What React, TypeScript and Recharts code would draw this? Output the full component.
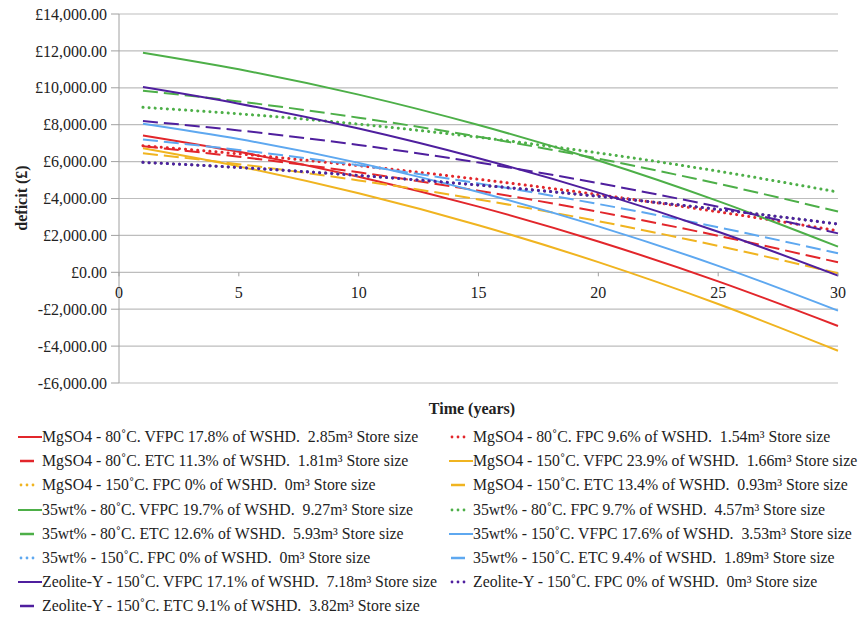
import { LineChart, Line, XAxis, YAxis, CartesianGrid } from 'recharts'

const RED = '#E2262B'
const YELLOW = '#F0B420'
const GREEN = '#4DAF48'
const BLUE = '#5EA8F0'
const PURPLE = '#4F1F9E'
const GRID = '#BDBDBD'
const FONT = '"Liberation Serif", "Times New Roman", serif'

// years with read values (deficit in £)
const YEARS = [1, 5, 10, 15, 20, 25, 30]
const MG80_VFPC = [7420, 6530, 5180, 3560, 1670, -490, -2910]
const MG80_FPC = [6860, 6420, 5780, 5040, 4210, 3280, 2250]
const MG80_ETC = [6830, 6260, 5420, 4420, 3280, 1980, 540]
const MG150_VFPC = [6720, 5740, 4280, 2550, 550, -1720, -4250]
const MG150_ETC = [6450, 5860, 4980, 3950, 2770, 1430, -50]
const W35_80_VFPC = [11900, 11000, 9630, 7980, 6060, 3860, 1390]
const W35_80_FPC = [8940, 8590, 8030, 7320, 6470, 5480, 4350]
const W35_80_ETC = [9840, 9260, 8380, 7350, 6160, 4800, 3290]
const W35_150_VFPC = [8050, 7220, 5930, 4350, 2490, 350, -2080]
const W35_150_ETC = [7200, 6630, 5800, 4820, 3700, 2440, 1030]
const ZEO_VFPC = [10040, 9140, 7790, 6180, 4320, 2200, -180]
const ZEO_ETC = [8200, 7690, 6900, 5950, 4830, 3550, 2110]
// 0% of WSHD: no solar, same deficit for every material
const NO_SOLAR = [5960, 5680, 5250, 4730, 4120, 3410, 2620]

const Y_TICKS = [-6000, -4000, -2000, 0, 2000, 4000, 6000, 8000, 10000, 12000, 14000]
const X_TICKS = [0, 5, 10, 15, 20, 25, 30]

type Style = 'solid' | 'dash' | 'dot'
const series: { key: string; name: string; color: string; style: Style; values: number[] }[] = [
  { key: 'mg80v', name: 'MgSO4 - 80˚C. VFPC 17.8% of WSHD.  2.85m³ Store size', color: RED, style: 'solid', values: MG80_VFPC },
  { key: 'mg80f', name: 'MgSO4 - 80˚C. FPC 9.6% of WSHD.  1.54m³ Store size', color: RED, style: 'dot', values: MG80_FPC },
  { key: 'mg80e', name: 'MgSO4 - 80˚C. ETC 11.3% of WSHD.  1.81m³ Store size', color: RED, style: 'dash', values: MG80_ETC },
  { key: 'mg150v', name: 'MgSO4 - 150˚C. VFPC 23.9% of WSHD.  1.66m³ Store size', color: YELLOW, style: 'solid', values: MG150_VFPC },
  { key: 'mg150f', name: 'MgSO4 - 150˚C. FPC 0% of WSHD.  0m³ Store size', color: YELLOW, style: 'dot', values: NO_SOLAR },
  { key: 'mg150e', name: 'MgSO4 - 150˚C. ETC 13.4% of WSHD.  0.93m³ Store size', color: YELLOW, style: 'dash', values: MG150_ETC },
  { key: 'w80v', name: '35wt% - 80˚C. VFPC 19.7% of WSHD.  9.27m³ Store size', color: GREEN, style: 'solid', values: W35_80_VFPC },
  { key: 'w80f', name: '35wt% - 80˚C. FPC 9.7% of WSHD.  4.57m³ Store size', color: GREEN, style: 'dot', values: W35_80_FPC },
  { key: 'w80e', name: '35wt% - 80˚C. ETC 12.6% of WSHD.  5.93m³ Store size', color: GREEN, style: 'dash', values: W35_80_ETC },
  { key: 'w150v', name: '35wt% - 150˚C. VFPC 17.6% of WSHD.  3.53m³ Store size', color: BLUE, style: 'solid', values: W35_150_VFPC },
  { key: 'w150f', name: '35wt% - 150˚C. FPC 0% of WSHD.  0m³ Store size', color: BLUE, style: 'dot', values: NO_SOLAR },
  { key: 'w150e', name: '35wt% - 150˚C. ETC 9.4% of WSHD.  1.89m³ Store size', color: BLUE, style: 'dash', values: W35_150_ETC },
  { key: 'zv', name: 'Zeolite-Y - 150˚C. VFPC 17.1% of WSHD.  7.18m³ Store size', color: PURPLE, style: 'solid', values: ZEO_VFPC },
  { key: 'zf', name: 'Zeolite-Y - 150˚C. FPC 0% of WSHD.  0m³ Store size', color: PURPLE, style: 'dot', values: NO_SOLAR },
  { key: 'ze', name: 'Zeolite-Y - 150˚C. ETC 9.1% of WSHD.  3.82m³ Store size', color: PURPLE, style: 'dash', values: ZEO_ETC },
]

const data = YEARS.map((year, i) => {
  const row: Record<string, number> = { year }
  for (const s of series) row[s.key] = s.values[i]
  return row
})

const PLOT_TOP = 14
const PLOT_H = 369
const Y_MIN = Y_TICKS[0]
const Y_MAX = Y_TICKS[Y_TICKS.length - 1]
const zeroY = PLOT_TOP + (PLOT_H * Y_MAX) / (Y_MAX - Y_MIN)

const money = (v: number) =>
  (v < 0 ? '-£' : '£') + Math.abs(v).toLocaleString('en-GB', { minimumFractionDigits: 2, maximumFractionDigits: 2 })

function XTick({ x, payload }: any) {
  return (
    <g>
      <line x1={x} x2={x} y1={zeroY} y2={zeroY + 4} stroke="#A0A0A0" />
      <text x={x} y={zeroY + 20} textAnchor="middle" dominantBaseline="central" fontSize={16} fontFamily={FONT} fill="#222">
        {payload.value}
      </text>
    </g>
  )
}

const dashFor = (s: Style) => (s === 'dash' ? '15 6' : s === 'dot' ? '0.1 6' : undefined)

function Sample({ color, style }: { color: string; style: Style }) {
  return (
    <svg width={24} height={10} style={{ display: 'block' }}>
      {style === 'solid' && <line x1={0} x2={24} y1={5} y2={5} stroke={color} strokeWidth={2} />}
      {style === 'dash' && <line x1={2} x2={16} y1={5} y2={5} stroke={color} strokeWidth={2.5} />}
      {style === 'dot' &&
        [3, 9, 15].map(cx => <circle key={cx} cx={cx} cy={5} r={1.4} fill={color} />)}
    </svg>
  )
}

export default function App() {
  return (
    <div style={{ position: 'absolute', left: 0, top: 0, width: 861, height: 618, background: '#fff', fontFamily: FONT }}>
      <LineChart width={861} height={400} data={data} margin={{ top: PLOT_TOP, right: 23, left: 0, bottom: 0 }}>
        <CartesianGrid vertical={false} stroke={GRID} strokeWidth={1.2} />
        <XAxis
          type="number"
          dataKey="year"
          domain={[0, 30]}
          ticks={X_TICKS}
          axisLine={false}
          tickLine={false}
          height={17}
          tick={<XTick />}
        />
        <YAxis
          type="number"
          domain={[Y_MIN, Y_MAX]}
          ticks={Y_TICKS}
          tickFormatter={money}
          width={119}
          axisLine={{ stroke: '#A0A0A0' }}
          tickLine={{ stroke: '#A0A0A0' }}
          tickSize={8}
          tickMargin={4}
          tick={{ fontSize: 16, fontFamily: FONT, fill: '#222' }}
        />
        {series.map(s => (
          <Line
            key={s.key}
            type="monotone"
            dataKey={s.key}
            name={s.name}
            stroke={s.color}
            strokeWidth={s.style === 'dot' ? 3 : 2}
            strokeDasharray={dashFor(s.style)}
            strokeLinecap={s.style === 'dot' ? 'round' : 'butt'}
            dot={false}
            activeDot={false}
            isAnimationActive={false}
          />
        ))}
      </LineChart>
      <div
        style={{
          position: 'absolute', left: 22, top: 198, transform: 'translate(-50%, -50%) rotate(-90deg)',
          fontWeight: 'bold', fontSize: 16, whiteSpace: 'nowrap', color: '#222',
        }}
      >
        deficit (£)
      </div>
      <div
        style={{
          position: 'absolute', left: 472, top: 409, transform: 'translate(-50%, -50%)',
          fontWeight: 'bold', fontSize: 16, whiteSpace: 'nowrap', color: '#222',
        }}
      >
        Time (years)
      </div>
      {series.map((s, i) => (
        <div
          key={s.key}
          style={{
            position: 'absolute',
            left: i % 2 === 0 ? 18 : 449,
            top: 437 + Math.floor(i / 2) * 24.2,
            transform: 'translateY(-50%)',
            display: 'flex',
            alignItems: 'center',
            fontSize: 15.8,
            whiteSpace: 'pre',
            color: '#222',
          }}
        >
          <Sample color={s.color} style={s.style} />
          <span>{s.name}</span>
        </div>
      ))}
    </div>
  )
}
